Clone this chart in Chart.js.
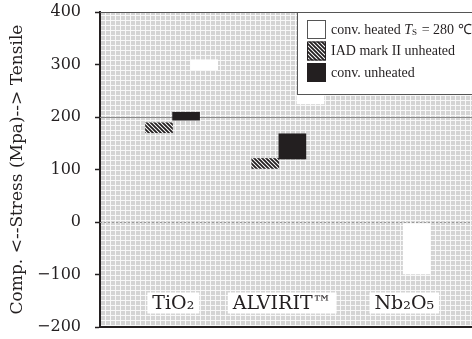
<!DOCTYPE html>
<html>
<head>
<meta charset="utf-8">
<script src="https://cdn.jsdelivr.net/npm/chart.js@4.4.0/dist/chart.umd.min.js"></script>
<style>
    html, body { margin: 0; padding: 0; background: #fff; }
</style>
</head>
<body>
<canvas id="stress-chart" width="472" height="339"></canvas>
<script>
// Film stress per coating material, floating bars [from, to] in MPa
const materials = ['TiO₂', 'ALVIRIT™', 'Nb₂O₅'];
const seriesNames = ['conv. heated T_S = 280 ℃', 'IAD mark II unheated', 'conv. unheated'];
const convHeated = [[290, 309], [225, 250], [-99, -3]];
const iadUnheated = [[170, 189], [102, 121], null];
const convUnheated = [[194, 209], [120, 168], null];
const yTicks = [-200, -100, 0, 100, 200, 300, 400];

const serif = 'DejaVu Serif';
const ink = '#231f20';

function makePattern(size, draw) {
    const c = document.createElement('canvas');
    c.width = size;
    c.height = size;
    const g = c.getContext('2d');
    draw(g, size);
    return g.createPattern(c, 'repeat');
}

// graph-paper look of the plot background
const paper = makePattern(5, (g, s) => {
    g.fillStyle = '#d4d4d4';
    g.fillRect(0, 0, s, s);
    g.fillStyle = '#f8f8f8';
    g.fillRect(0, 0, s, 1);
    g.fillRect(0, 0, 1, s);
});

// "\\\\" hatching
const hatch = makePattern(4, (g, s) => {
    g.fillStyle = '#fff';
    g.fillRect(0, 0, s, s);
    g.strokeStyle = ink;
    g.lineWidth = 1.8;
    g.beginPath();
    g.moveTo(-1, -1); g.lineTo(s + 1, s + 1);
    g.moveTo(-1, s - 1); g.lineTo(1, s + 1);
    g.moveTo(s - 1, -1); g.lineTo(s + 1, 1);
    g.stroke();
});

// where each series sits inside a material's slot (x axis runs 0..3)
function barsFor(values, slot) {
    return values
        .map((v, i) => v ? { x: i + slot, y: v } : null)
        .filter(Boolean);
}

const datasets = [
    { label: seriesNames[0], data: barsFor(convHeated, 0.73), backgroundColor: '#fff', swatchBorder: '#555' },
    { label: seriesNames[1], data: barsFor(iadUnheated, 0.305), backgroundColor: hatch, swatchBorder: ink },
    { label: seriesNames[2], data: barsFor(convUnheated, 0.56), backgroundColor: ink, swatchBorder: ink },
];

const plotDecor = {
    id: 'plotDecor',
    beforeDraw(chart) {
        const { ctx, chartArea: a } = chart;
        ctx.save();
        ctx.fillStyle = paper;
        ctx.fillRect(a.left, a.top, a.right - a.left, a.bottom - a.top);
        ctx.restore();
    },
    beforeDatasetsDraw(chart) {
        const { ctx, chartArea: a, scales: { y } } = chart;
        ctx.save();
        // solid line at 200, dashed zero line
        ctx.strokeStyle = '#8a8a8a';
        ctx.lineWidth = 1;
        let py = Math.round(y.getPixelForValue(200)) + 0.5;
        ctx.beginPath(); ctx.moveTo(a.left, py); ctx.lineTo(a.right, py); ctx.stroke();
        ctx.setLineDash([2, 2]);
        ctx.strokeStyle = '#9a9a9a';
        py = Math.round(y.getPixelForValue(0)) + 0.5;
        ctx.beginPath(); ctx.moveTo(a.left, py); ctx.lineTo(a.right, py); ctx.stroke();
        ctx.setLineDash([]);
        // top frame
        ctx.strokeStyle = '#555';
        ctx.beginPath(); ctx.moveTo(a.left, a.top + 0.5); ctx.lineTo(a.right, a.top + 0.5); ctx.stroke();
        ctx.restore();
    },
    afterDatasetsDraw(chart) {
        const { ctx, chartArea: a, scales: { x } } = chart;
        ctx.save();

        // material names in white boxes near the bottom
        const labelSlots = [0.44, 0.464, 0.613];
        ctx.font = `19px "${serif}"`;
        ctx.textBaseline = 'middle';
        ctx.textAlign = 'center';
        materials.forEach((name, i) => {
            const cx = x.getPixelForValue(i + labelSlots[i]);
            const cy = a.bottom - 24;
            const w = ctx.measureText(name).width + 10;
            ctx.fillStyle = '#fff';
            ctx.fillRect(cx - w / 2, cy - 10.5, w, 21);
            ctx.fillStyle = ink;
            ctx.fillText(name, cx, cy + 1);
        });

        // legend box in the upper right corner
        const lx = a.right - 175;
        const ly = a.top;
        ctx.fillStyle = '#fff';
        ctx.fillRect(lx, ly, 180, 83);
        ctx.strokeStyle = '#555';
        ctx.lineWidth = 1;
        ctx.strokeRect(lx + 0.5, ly + 0.5, 180, 82);

        ctx.textAlign = 'left';
        chart.data.datasets.forEach((ds, i) => {
            const top = ly + 8 + i * 21.5;
            ctx.fillStyle = ds.backgroundColor;
            ctx.fillRect(lx + 10, top, 19, 19);
            ctx.strokeStyle = ds.swatchBorder;
            ctx.strokeRect(lx + 10.5, top + 0.5, 18, 18);

            ctx.fillStyle = ink;
            let tx = lx + 34;
            const ty = top + 10;
            const parts = ds.label.split('T_S');
            ctx.font = '14px "Liberation Serif"';
            ctx.fillText(parts[0], tx, ty);
            if (parts.length > 1) {
                tx += ctx.measureText(parts[0]).width;
                ctx.font = 'italic 14px "Liberation Serif"';
                ctx.fillText('T', tx, ty);
                tx += ctx.measureText('T').width;
                ctx.font = '9px "Liberation Serif"';
                ctx.fillText('S', tx, ty + 3);
                tx += ctx.measureText('S').width + 1;
                ctx.font = '14px "Liberation Serif"';
                ctx.fillText(parts[1], tx, ty);
            }
        });
        ctx.restore();
    }
};

new Chart(document.getElementById('stress-chart'), {
    type: 'bar',
    data: { datasets },
    options: {
        responsive: false,
        animation: false,
        devicePixelRatio: 1,
        layout: { padding: { top: 12, right: 0, bottom: 12, left: 0 } },
        datasets: {
            bar: { grouped: false, barThickness: 27, borderWidth: 0 }
        },
        plugins: {
            legend: { display: false },
            tooltip: { enabled: false }
        },
        scales: {
            x: {
                type: 'linear',
                min: 0,
                max: 3,
                ticks: { display: false },
                grid: { display: false },
                border: { color: ink, width: 2 },
                afterFit: (s) => { s.height = 0; s.paddingLeft = 0; s.paddingRight = 0; }
            },
            y: {
                min: -200,
                max: 400,
                afterBuildTicks: (s) => { s.ticks = yTicks.map(v => ({ value: v })); },
                ticks: {
                    color: ink,
                    font: { family: serif, size: 16 },
                    padding: 14,
                    callback: (v) => String(v).replace('-', '−')
                },
                grid: { drawOnChartArea: false, tickLength: 5, tickColor: ink, tickWidth: 1.5 },
                border: { color: ink, width: 2 },
                title: {
                    display: true,
                    text: 'Comp. <--Stress (Mpa)--> Tensile',
                    color: ink,
                    font: { family: serif, size: 17 },
                    padding: { top: 7, bottom: 0 }
                },
                afterFit: (s) => { s.width = 100; s.paddingTop = 0; s.paddingBottom = 0; }
            }
        }
    },
    plugins: [plotDecor]
});
</script>
</body>
</html>
